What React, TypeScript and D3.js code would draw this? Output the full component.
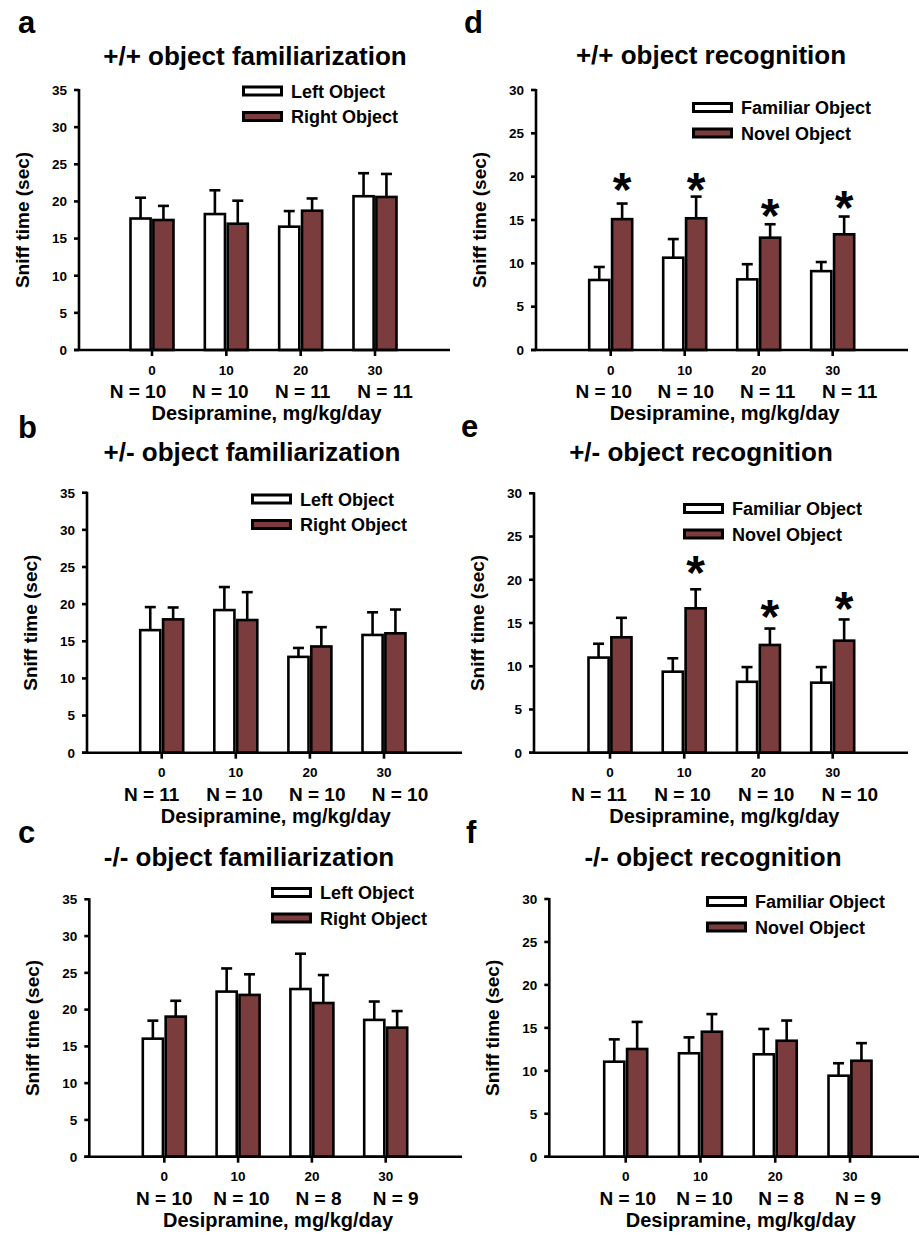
import React from 'react';
import * as d3 from 'd3';

const doses = ['0', '10', '20', '30'];

// a: +/+ familiarization
const aLeft = [17.7, 18.3, 16.6, 20.7];
const aLeftSem = [2.8, 3.2, 2.1, 3.1];
const aRight = [17.5, 17.0, 18.75, 20.6];
const aRightSem = [1.9, 3.1, 1.65, 3.1];
const aN = ['N = 10', 'N = 10', 'N = 11', 'N = 11'];

// b: +/- familiarization
const bLeft = [16.5, 19.2, 12.9, 15.85];
const bLeftSem = [3.1, 3.1, 1.2, 3.05];
const bRight = [17.95, 17.86, 14.3, 16.07];
const bRightSem = [1.6, 3.75, 2.6, 3.2];
const bN = ['N = 11', 'N = 10', 'N = 10', 'N = 10'];

// c: -/- familiarization
const cLeft = [16.05, 22.45, 22.8, 18.6];
const cLeftSem = [2.45, 3.15, 4.8, 2.5];
const cRight = [19.05, 22.0, 20.9, 17.55];
const cRightSem = [2.15, 2.8, 3.8, 2.25];
const cN = ['N = 10', 'N = 10', 'N = 8', 'N = 9'];

// d: +/+ recognition
const dFam = [8.08, 10.65, 8.15, 9.1];
const dFamSem = [1.5, 2.15, 1.75, 1.05];
const dNovel = [15.1, 15.2, 12.96, 13.35];
const dNovelSem = [1.8, 2.5, 1.55, 2.05];
const dStars = [19.6, 19.6, 16.6, 17.5];
const dN = ['N = 10', 'N = 10', 'N = 11', 'N = 11'];

// e: +/- recognition
const eFam = [11.0, 9.37, 8.2, 8.1];
const eFamSem = [1.6, 1.55, 1.7, 1.8];
const eNovel = [13.35, 16.7, 12.46, 12.96];
const eNovelSem = [2.25, 2.2, 1.9, 2.45];
const eStars = [null, 21.95, 16.9, 17.75];
const eN = ['N = 11', 'N = 10', 'N = 10', 'N = 10'];

// f: -/- recognition
const fFam = [11.06, 12.04, 11.92, 9.43];
const fFamSem = [2.6, 1.85, 2.95, 1.45];
const fNovel = [12.54, 14.55, 13.5, 11.17];
const fNovelSem = [3.15, 2.05, 2.35, 2.05];
const fN = ['N = 10', 'N = 10', 'N = 8', 'N = 9'];

const famLegend = ['Left Object', 'Right Object'];
const recLegend = ['Familiar Object', 'Novel Object'];

const BROWN = '#7b3c3d';
const FONT = '"Liberation Sans", Arial, Helvetica, sans-serif';

type Panel = {
  letter: string; letterX: number; letterY: number;
  title: string; titleX: number; titleY: number;
  legend: string[]; legX: number; legY: number;
  a: number[]; aSem: number[]; b: number[]; bSem: number[];
  stars?: (number | null)[];
  nLabels: string[]; nOff: [number, number];
  yMax: number; axisX: number; y0: number; yTop: number;
  t0: number; t1: number; xEnd: number;
};

const panels: Panel[] = [
  { letter: 'a', letterX: 18, letterY: 33, title: '+/+ object familiarization', titleX: 255, titleY: 65,
    legend: famLegend, legX: 242, legY: 91, a: aLeft, aSem: aLeftSem, b: aRight, bSem: aRightSem,
    nLabels: aN, nOff: [-14, 10], yMax: 35, axisX: 79, y0: 350, yTop: 90, t0: 152, t1: 375, xEnd: 450 },
  { letter: 'b', letterX: 18, letterY: 438, title: '+/- object familiarization', titleX: 252, titleY: 461,
    legend: famLegend, legX: 251, legY: 499, a: bLeft, aSem: bLeftSem, b: bRight, bSem: bRightSem,
    nLabels: bN, nOff: [-10, 16], yMax: 35, axisX: 87, y0: 752.7, yTop: 492.7, t0: 161.7, t1: 384, xEnd: 462 },
  { letter: 'c', letterX: 18, letterY: 843, title: '-/- object familiarization', titleX: 249, titleY: 866,
    legend: famLegend, legX: 271, legY: 892.5, a: cLeft, aSem: cLeftSem, b: cRight, bSem: cRightSem,
    nLabels: cN, nOff: [0, 10], yMax: 35, axisX: 89.3, y0: 1156.7, yTop: 899.3, t0: 164.3, t1: 385.7, xEnd: 462 },
  { letter: 'd', letterX: 464, letterY: 33, title: '+/+ object recognition', titleX: 711, titleY: 64,
    legend: recLegend, legX: 692, legY: 107.5, a: dFam, aSem: dFamSem, b: dNovel, bSem: dNovelSem, stars: dStars,
    nLabels: dN, nOff: [-7, 17], yMax: 30, axisX: 536, y0: 350, yTop: 90, t0: 610.7, t1: 832.7, xEnd: 908 },
  { letter: 'e', letterX: 461, letterY: 437, title: '+/- object recognition', titleX: 701, titleY: 461,
    legend: recLegend, legX: 683, legY: 508.5, a: eFam, aSem: eFamSem, b: eNovel, bSem: eNovelSem, stars: eStars,
    nLabels: eN, nOff: [-11, 17], yMax: 30, axisX: 534, y0: 752.7, yTop: 493.3, t0: 610, t1: 832.7, xEnd: 908 },
  { letter: 'f', letterX: 466, letterY: 843, title: '-/- object recognition', titleX: 713, titleY: 866,
    legend: recLegend, legX: 706, legY: 901.5, a: fFam, aSem: fFamSem, b: fNovel, bSem: fNovelSem,
    nLabels: fN, nOff: [2, 8], yMax: 30, axisX: 549.3, y0: 1156.7, yTop: 899, t0: 625.7, t1: 850, xEnd: 919 },
];

function BarPanel({ p }: { p: Panel }) {
  const y = d3.scaleLinear().domain([0, p.yMax]).range([p.y0, p.yTop]);
  const x = d3.scalePoint<string>().domain(doses).range([p.t0, p.t1]);
  const xn = d3.scalePoint<string>().domain(doses).range([p.t0 + p.nOff[0], p.t1 + p.nOff[1]]);
  const sub = d3.scaleBand<string>().domain(['a', 'b']).range([-21.5, 21.5]).paddingInner(0.12);
  const yTicks = d3.range(0, p.yMax + 1, 5);
  const bw = sub.bandwidth();
  const sw = 2.6;
  const series = [
    { key: 'a', vals: p.a, sem: p.aSem, fill: '#ffffff' },
    { key: 'b', vals: p.b, sem: p.bSem, fill: BROWN },
  ];
  const midX = (p.t0 + p.t1) / 2;

  return (
    <g fontFamily={FONT} fontWeight="bold" fill="#000">
      <text x={p.letterX} y={p.letterY} fontSize={31}>{p.letter}</text>
      <text x={p.titleX} y={p.titleY} fontSize={26} textAnchor="middle">{p.title}</text>

      {/* bars + error bars */}
      {series.map(s => doses.map((d, i) => {
        const bx = x(d)! + sub(s.key)!;
        const top = y(s.vals[i]);
        const et = y(s.vals[i] + s.sem[i]);
        const cx = bx + bw / 2;
        return (
          <g key={s.key + d}>
            <line x1={cx} x2={cx} y1={top} y2={et} stroke="#000" strokeWidth={sw} />
            <line x1={cx - 5.5} x2={cx + 5.5} y1={et} y2={et} stroke="#000" strokeWidth={sw} />
            <rect x={bx} y={top} width={bw} height={p.y0 - top} fill={s.fill} stroke="#000" strokeWidth={sw} />
          </g>
        );
      }))}

      {/* significance stars */}
      {p.stars && p.stars.map((v, i) => v == null ? null : (
        <text key={'s' + i} x={x(doses[i])! + sub('b')! + bw / 2} y={y(v) + 26}
          fontSize={48} textAnchor="middle">*</text>
      ))}

      {/* y axis */}
      <line x1={p.axisX} x2={p.axisX} y1={p.yTop - 1} y2={p.y0} stroke="#000" strokeWidth={sw} />
      {yTicks.map(t => (
        <g key={'y' + t}>
          <line x1={p.axisX - 5} x2={p.axisX} y1={y(t)} y2={y(t)} stroke="#000" strokeWidth={sw} />
          <text x={p.axisX - 12} y={y(t) + 4.8} fontSize={13.5} textAnchor="end">{t}</text>
        </g>
      ))}
      <text transform={`translate(${p.axisX - 57},${(p.y0 + p.yTop) / 2}) rotate(-90)`}
        fontSize={19} textAnchor="middle" dominantBaseline="central">Sniff time (sec)</text>

      {/* x axis */}
      <line x1={p.axisX - 5} x2={p.xEnd} y1={p.y0} y2={p.y0} stroke="#000" strokeWidth={sw} />
      {doses.map((d, i) => (
        <g key={'x' + d}>
          <line x1={x(d)} x2={x(d)} y1={p.y0} y2={p.y0 + 6} stroke="#000" strokeWidth={sw} />
          <text x={x(d)} y={p.y0 + 24.5} fontSize={13.5} textAnchor="middle">{d}</text>
          <text x={xn(d)} y={p.y0 + 48} fontSize={19} textAnchor="middle">{p.nLabels[i]}</text>
        </g>
      ))}
      <text x={midX + 3} y={p.y0 + 70} fontSize={20} textAnchor="middle">Desipramine, mg/kg/day</text>

      {/* legend */}
      {p.legend.map((l, i) => (
        <g key={'l' + i}>
          <rect x={p.legX + 1.5} y={p.legY + i * 25.5 - 4} width={38} height={8}
            fill={i === 0 ? '#fff' : BROWN} stroke="#000" strokeWidth={3} />
          <text x={p.legX + 49} y={p.legY + i * 25.5 + 6.5} fontSize={18}>{l}</text>
        </g>
      ))}
    </g>
  );
}

export default function App() {
  return (
    <svg width={919} height={1234} viewBox="0 0 919 1234"
      style={{ position: 'absolute', left: 0, top: 0, background: '#fff' }}>
      <rect width={919} height={1234} fill="#fff" />
      {panels.map(p => <BarPanel key={p.letter} p={p} />)}
    </svg>
  );
}
